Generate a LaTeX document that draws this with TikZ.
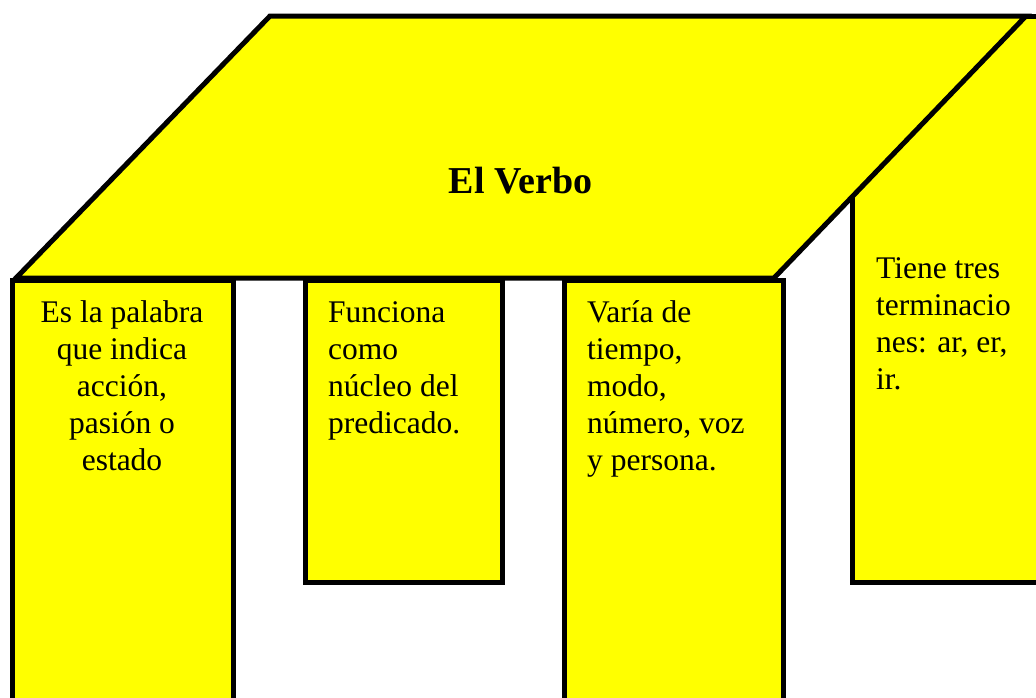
\documentclass[tikz,border=0pt]{standalone}
\usepackage{fontspec}
\setmainfont{Liberation Serif}
\definecolor{boxyellow}{HTML}{FFFF00}
\begin{document}
\begin{tikzpicture}[x=1pt,y=-1pt,
  panel/.style={draw=black,fill=boxyellow,line width=5pt,line join=miter},
  body/.style={inner sep=0pt,font=\fontsize{31.5}{37}\selectfont},
  titletext/.style={inner sep=0pt,font=\fontsize{38}{42}\selectfont\bfseries}]
\useasboundingbox (0,0) rectangle (1036,697);
\clip (0,0) rectangle (1036,697);
% right box (behind the top panel)
\draw[panel] (852,16) rectangle (1060,582);
% top panel
\draw[panel] (270,16) -- (1026,16) -- (774,278) -- (16,278) -- cycle;
% hanging boxes
\draw[panel] (12,280) rectangle (233,720);
\draw[panel] (305,280) rectangle (502,582);
\draw[panel] (564,280) rectangle (783,720);
% texts (anchor base = baseline of the last line)
\node[titletext,anchor=base] (title) at (520.5,193) {El Verbo};
\node[body,anchor=base,align=center] (t1) at (122,470) {Es la palabra\\que indica\\acción,\\pasión o\\estado};
\node[body,anchor=base west,align=left] (t2) at (328,433) {Funciona\\como\\núcleo del\\predicado.};
\node[body,anchor=base west,align=left] (t3) at (587,470) {Varía de\\tiempo,\\modo,\\número, voz\\y persona.};
\node[body,anchor=base west,align=left] (t4) at (876,389) {Tiene tres\\terminacio\\nes: ar, er,\\ir.};
\end{tikzpicture}
\end{document}
